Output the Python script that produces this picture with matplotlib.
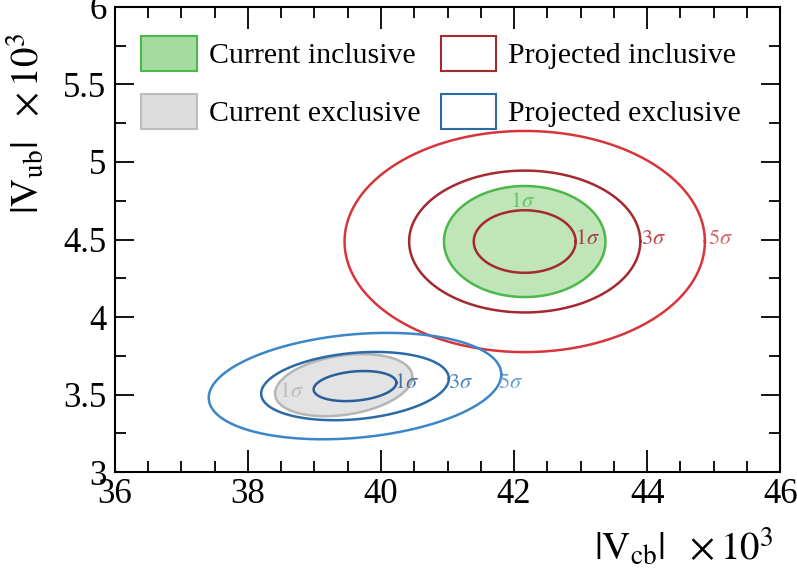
import numpy as np
import matplotlib
matplotlib.use("Agg")
import matplotlib.pyplot as plt
from matplotlib.patches import Patch
from matplotlib.ticker import MultipleLocator

plt.rcParams['font.family'] = 'Liberation Serif'
plt.rcParams['mathtext.fontset'] = 'stix'

# centres and widths (x 10^3): |Vcb|, |Vub|, sigma_cb, sigma_ub, correlation
incl_now = (42.16, 4.487, 0.80, 0.236, 0.0)
excl_now = (39.44, 3.561, 0.68, 0.132, 0.27)
incl_proj = (42.16, 4.487, 0.505, 0.133, 0.0)
excl_proj = (39.61, 3.555, 0.41, 0.064, 0.22)

# delta chi2 for 1, 3, 5 sigma with two parameters
dchi2 = {1: 2.30, 3: 11.83, 5: 28.74}

# label positions for the sigma tags
incl_tag_x = [43.11, 44.09, 45.10]
incl_tag_y = 4.503
excl_tag_x = [40.39, 41.19, 41.94]
excl_tag_y = 3.574
now_incl_tag = (42.12, 4.74)
now_excl_tag = (38.66, 3.516)

sigmas = [1, 3, 5]


def contour(par, nsig):
    cx, cy, sx, sy, rho = par
    cov = np.array([[sx * sx, rho * sx * sy], [rho * sx * sy, sy * sy]])
    L = np.linalg.cholesky(cov)
    t = np.linspace(0, 2 * np.pi, 400)
    r = np.sqrt(dchi2[nsig])
    xy = r * L @ np.vstack([np.cos(t), np.sin(t)])
    return cx + xy[0], cy + xy[1]


def tag(x, y, n, c):
    ax.text(x, y, r'$\mathit{%d}\sigma$' % n, color=c, fontsize=16,
            ha='center', va='center', zorder=3)


fig = plt.figure(figsize=(7.97, 5.73), dpi=100)
ax = fig.add_axes([0.144, 0.176, 0.835, 0.812])

# current measurements, filled
x, y = contour(incl_now, 1)
ax.fill(x, y, facecolor='#bfe5b9', edgecolor='#4cb84a', lw=1.8, zorder=1)
x, y = contour(excl_now, 1)
ax.fill(x, y, facecolor='#e3e3e3', edgecolor='#b5b5b5', lw=1.8, zorder=1)

# projections
red = {1: '#a5292e', 3: '#a5292e', 5: '#d8353b'}
blue = {1: '#285f98', 3: '#2c6aa6', 5: '#3b86c8'}
for n in sigmas:
    x, y = contour(incl_proj, n)
    ax.plot(x, y, color=red[n], lw=1.8, zorder=2)
    x, y = contour(excl_proj, n)
    ax.plot(x, y, color=blue[n], lw=1.8, zorder=2)

red_tag = ['#9e4045', '#c0474e', '#dc646a']
blue_tag = ['#44719f', '#4d86bf', '#6aa0d3']
for n, xt, c in zip(sigmas, incl_tag_x, red_tag):
    tag(xt, incl_tag_y, n, c)
for n, xt, c in zip(sigmas, excl_tag_x, blue_tag):
    tag(xt, excl_tag_y, n, c)
tag(*now_incl_tag, 1, '#6cc26a')
tag(*now_excl_tag, 1, '#bdbdbd')

ax.set_xlim(36, 46)
ax.set_ylim(3, 6)
ax.xaxis.set_major_locator(MultipleLocator(2))
ax.xaxis.set_minor_locator(MultipleLocator(0.5))
ax.yaxis.set_major_locator(MultipleLocator(0.5))
ax.yaxis.set_minor_locator(MultipleLocator(0.25))
ax.yaxis.set_major_formatter(matplotlib.ticker.FormatStrFormatter('%g'))
ax.tick_params(which='both', direction='in', top=True, right=True,
               labelsize=25, width=1.3)
ax.tick_params(axis='x', which='major', length=16, pad=4)
ax.tick_params(axis='x', which='minor', length=8)
ax.tick_params(axis='y', which='major', length=14, pad=6)
ax.tick_params(axis='y', which='minor', length=8)
for s in ax.spines.values():
    s.set_linewidth(1.5)

ax.set_xlabel(r'$|\mathrm{V}_{\mathrm{cb}}|\ \ \times 10^{3}$', fontsize=28,
              ha='right')
ax.xaxis.set_label_coords(0.99, -0.118)
ax.set_ylabel(r'$|\mathrm{V}_{\mathrm{ub}}|\ \ \times 10^{3}$', fontsize=28,
              ha='right')
ax.yaxis.set_label_coords(-0.1, 0.945)

handles = [
    Patch(facecolor='#a6dba0', edgecolor='#4cb84a', lw=1.5),
    Patch(facecolor='#dcdcdc', edgecolor='#bdbdbd', lw=1.5),
    Patch(facecolor='white', edgecolor='#a5292e', lw=1.5),
    Patch(facecolor='white', edgecolor='#2c6aa6', lw=1.5),
]
labels = ['Current inclusive', 'Current exclusive',
          'Projected inclusive', 'Projected exclusive']
ax.legend(handles, labels, ncol=2, loc='upper left', frameon=False,
          fontsize=21.5, handlelength=1.85, handleheight=1.45,
          handletextpad=0.4, columnspacing=0.7, labelspacing=0.75,
          borderaxespad=0.0, borderpad=0.0, bbox_to_anchor=(0.04, 0.938))

fig.savefig('out.png', dpi=100)
